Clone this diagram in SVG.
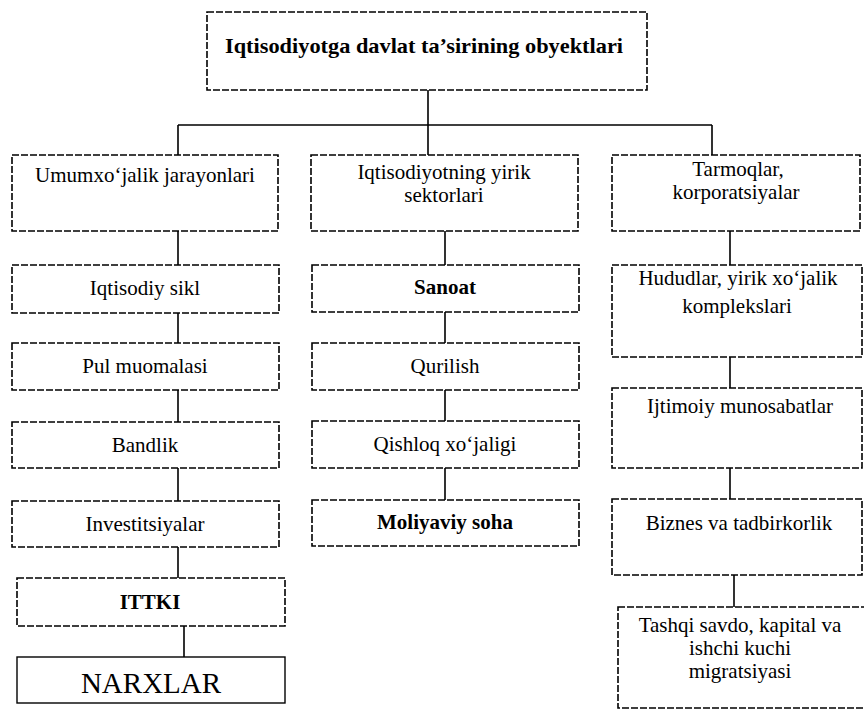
<svg xmlns="http://www.w3.org/2000/svg" width="864" height="715" viewBox="0 0 864 715">
<style>
  .bg{fill:#ffffff}
  .box{fill:#ffffff;stroke:#000;stroke-width:1.6;stroke-dasharray:7 2}
  .solid{fill:#ffffff;stroke:#000;stroke-width:1.4}
  .con{stroke:#000;stroke-width:1.6;fill:none}
  text{font-family:"Liberation Serif","Times New Roman",serif;font-size:21px;fill:#000;text-anchor:middle}
  .b{font-weight:bold}
  .big{font-size:29px}
</style>
<rect class="bg" x="0" y="0" width="864" height="715"/>
<g id="connectors">
  <path class="con" d="M428 90 V125 M178 125 H712 M178 125 V155 M428 125 V155 M712 125 V155"/>
  <path class="con" d="M178 231 V265 M178 313 V343 M178 390 V422 M178 468 V501 M178 547 V578 M184 626 V657"/>
  <path class="con" d="M445 231 V265 M445 312 V343 M445 390 V421 M445 468 V500"/>
  <path class="con" d="M730 231 V265 M730 357 V388 M730 468 V499 M734 575 V607"/>
</g>
<g id="root">
  <rect class="box" x="207" y="12" width="440" height="78"/>
  <text class="b" x="424" y="53" textLength="398" lengthAdjust="spacingAndGlyphs">Iqtisodiyotga davlat ta’sirining obyektlari</text>
</g>
<g id="umumxojalik">
  <rect class="box" x="12" y="155" width="266" height="76"/>
  <text x="145" y="182">Umumxo‘jalik jarayonlari</text>
</g>
<g id="sektorlar">
  <rect class="box" x="311" y="155" width="267" height="76"/>
  <text x="444" y="179">Iqtisodiyotning yirik</text>
  <text x="444" y="202">sektorlari</text>
</g>
<g id="tarmoqlar">
  <rect class="box" x="612" y="155" width="248" height="76"/>
  <text x="738" y="176">Tarmoqlar,</text>
  <text x="736" y="199">korporatsiyalar</text>
</g>
<g id="sikl">
  <rect class="box" x="12" y="265" width="267" height="48"/>
  <text x="145" y="295">Iqtisodiy sikl</text>
</g>
<g id="pul">
  <rect class="box" x="12" y="343" width="267" height="47"/>
  <text x="145" y="373">Pul muomalasi</text>
</g>
<g id="bandlik">
  <rect class="box" x="12" y="422" width="267" height="46"/>
  <text x="145" y="452">Bandlik</text>
</g>
<g id="investitsiyalar">
  <rect class="box" x="12" y="501" width="267" height="46"/>
  <text x="145" y="531">Investitsiyalar</text>
</g>
<g id="ittki">
  <rect class="box" x="17" y="578" width="268" height="48"/>
  <text class="b" x="150" y="609">ITTKI</text>
</g>
<g id="narxlar">
  <rect class="solid" x="17" y="657" width="268" height="46"/>
  <text class="big" x="151" y="693">NARXLAR</text>
</g>
<g id="sanoat">
  <rect class="box" x="312" y="265" width="267" height="47"/>
  <text class="b" x="445" y="294">Sanoat</text>
</g>
<g id="qurilish">
  <rect class="box" x="312" y="343" width="267" height="47"/>
  <text x="445" y="373">Qurilish</text>
</g>
<g id="qishloq">
  <rect class="box" x="312" y="421" width="267" height="47"/>
  <text x="445" y="451">Qishloq xo‘jaligi</text>
</g>
<g id="moliyaviy">
  <rect class="box" x="312" y="500" width="267" height="46"/>
  <text class="b" x="445" y="529">Moliyaviy soha</text>
</g>
<g id="hududlar">
  <rect class="box" x="612" y="265" width="250" height="92"/>
  <text x="738" y="285">Hududlar, yirik xo‘jalik</text>
  <text x="737" y="313">komplekslari</text>
</g>
<g id="ijtimoiy">
  <rect class="box" x="612" y="388" width="250" height="80"/>
  <text x="740" y="413">Ijtimoiy munosabatlar</text>
</g>
<g id="biznes">
  <rect class="box" x="612" y="499" width="250" height="76"/>
  <text x="739" y="530">Biznes va tadbirkorlik</text>
</g>
<g id="tashqi">
  <rect class="box" x="618" y="607" width="252" height="101"/>
  <text x="740" y="632">Tashqi savdo, kapital va</text>
  <text x="740" y="655">ishchi kuchi</text>
  <text x="740" y="678">migratsiyasi</text>
</g>
</svg>
